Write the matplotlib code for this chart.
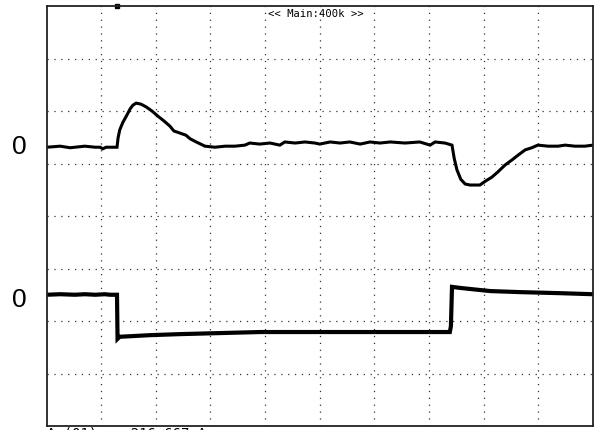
import matplotlib
matplotlib.use("Agg")
import matplotlib.pyplot as plt
from matplotlib.transforms import blended_transform_factory

# screen is 10 x 8 divisions, x in div, y in div (0 = centre line)
ch1_t = [0.01, 0.25, 0.43, 0.52, 0.70, 0.89, 0.98, 1.03, 1.09, 1.29, 1.31, 1.34,
         1.40, 1.46, 1.53, 1.58, 1.64, 1.73, 1.82, 1.93, 2.04, 2.15, 2.26, 2.33,
         2.44, 2.55, 2.63, 2.74, 2.90, 3.08, 3.27, 3.45, 3.63, 3.72, 3.90, 4.09,
         4.27, 4.36, 4.55, 4.73, 4.91, 5.00, 5.19, 5.37, 5.55, 5.74, 5.92, 6.10,
         6.29, 6.56, 6.83, 7.02, 7.11, 7.29, 7.42, 7.46, 7.51, 7.58, 7.66, 7.75,
         7.93, 8.04, 8.15, 8.26, 8.39, 8.52, 8.63, 8.76, 8.88, 8.99, 9.18, 9.36,
         9.49, 9.67, 9.85, 10.0]
ch1_v = [1.31, 1.33, 1.30, 1.31, 1.33, 1.31, 1.31, 1.28, 1.31, 1.31, 1.49, 1.64,
         1.79, 1.90, 2.04, 2.11, 2.15, 2.13, 2.08, 2.00, 1.90, 1.81, 1.71, 1.62,
         1.58, 1.54, 1.47, 1.41, 1.33, 1.31, 1.33, 1.33, 1.35, 1.39, 1.37, 1.39,
         1.35, 1.41, 1.39, 1.41, 1.39, 1.37, 1.41, 1.39, 1.41, 1.37, 1.41, 1.39,
         1.41, 1.39, 1.41, 1.35, 1.41, 1.39, 1.35, 1.10, 0.88, 0.70, 0.61, 0.59,
         0.59, 0.67, 0.74, 0.84, 0.97, 1.07, 1.16, 1.26, 1.30, 1.35, 1.33, 1.33,
         1.35, 1.33, 1.33, 1.35]

ch2_t = [0.01, 0.25, 0.52, 0.70, 0.89, 1.07, 1.16, 1.27, 1.29, 1.30, 1.34, 1.53,
         1.89, 2.44, 3.18, 3.91, 4.64, 5.55, 6.47, 7.20, 7.38, 7.40, 7.42, 7.57,
         7.75, 8.12, 8.67, 9.40, 10.0]
ch2_v = [-1.50, -1.49, -1.50, -1.49, -1.50, -1.49, -1.50, -1.50, -1.50, -2.34,
         -2.30, -2.29, -2.27, -2.25, -2.23, -2.21, -2.21, -2.21, -2.21, -2.21,
         -2.21, -2.10, -1.35, -1.37, -1.39, -1.43, -1.45, -1.47, -1.49]

ch_labels = ["0", "0"]
ch_label_y = [1.31, -1.60]
header = "<< Main:400k >>"
footer = "\u0394x(01)    216.667uA"
trig_t = 1.29

fig = plt.figure(figsize=(5.98, 4.30), dpi=100)
ax = fig.add_axes([46.5 / 598, 4 / 430, 546.5 / 598, 420 / 430])

ax.plot(ch1_t, ch1_v, color="black", linewidth=2.2, solid_joinstyle="miter")
ax.plot(ch2_t, ch2_v, color="black", linewidth=3.0, solid_joinstyle="miter")

ax.set_xlim(0, 10)
ax.set_ylim(-4, 4)
ax.set_xticks(range(1, 10))
ax.set_yticks(range(-3, 4))
ax.tick_params(length=0, labelbottom=False, labelleft=False)
ax.grid(True, color="#333333", linestyle=(0, (1, 4.5)), linewidth=0.9)
for s in ax.spines.values():
    s.set_linewidth(1.3)
    s.set_color("#222222")

trans = blended_transform_factory(fig.transFigure, ax.transData)
for lab, yy in zip(ch_labels, ch_label_y):
    fig.text(19 / 598, yy, lab, transform=trans, fontsize=19,
             family="Liberation Sans", ha="center", va="center")

ax.text(5.0 - 0.07, 3.95, header, ha="center", va="top",
        family="DejaVu Sans Mono", fontsize=7.6)
ax.plot([trig_t], [4.0], marker="s", markersize=2.5, color="black",
        clip_on=False)

fig.text(47 / 598, 1 - 426.5 / 430, footer, ha="left", va="top",
         family="DejaVu Sans Mono", fontsize=10)

fig.savefig("out.png", dpi=100)
